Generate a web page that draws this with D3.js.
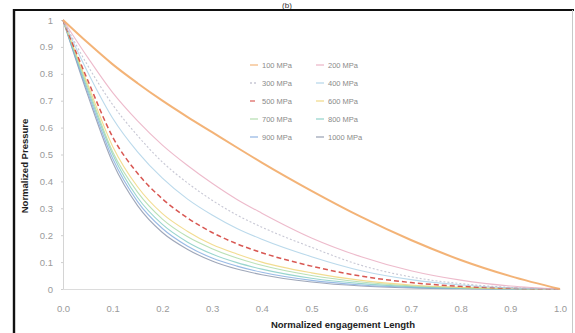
<!DOCTYPE html>
<html>
<head>
<meta charset="utf-8">
<script src="https://cdn.jsdelivr.net/npm/d3@7"></script>
<style>
  html, body { margin: 0; padding: 0; background: #fff; }
  svg { display: block; font-family: "Liberation Sans", Arial, sans-serif; }
</style>
</head>
<body>
<svg id="chart" width="575" height="333"></svg>
<script>
// Normalized engagement length (x) sample positions
const lengthPoints = [0, 0.05, 0.1, 0.15, 0.2, 0.25, 0.3, 0.35, 0.4, 0.5, 0.6, 0.7, 0.8, 0.9, 1.0];

// Normalized pressure for each interference pressure
const p100  = [1, 0.915, 0.835, 0.765, 0.70, 0.64, 0.583, 0.526, 0.47, 0.365, 0.268, 0.182, 0.108, 0.048, 0];
const p200  = [1, 0.86, 0.73, 0.625, 0.535, 0.46, 0.393, 0.333, 0.282, 0.19, 0.12, 0.068, 0.033, 0.011, 0];
const p300  = [1, 0.83, 0.685, 0.57, 0.472, 0.395, 0.33, 0.275, 0.23, 0.155, 0.088, 0.045, 0.02, 0.006, 0];
const p400  = [1, 0.805, 0.635, 0.51, 0.412, 0.335, 0.275, 0.225, 0.185, 0.12, 0.068, 0.035, 0.015, 0.004, 0];
const p500  = [1, 0.775, 0.565, 0.43, 0.335, 0.265, 0.21, 0.168, 0.135, 0.085, 0.048, 0.024, 0.01, 0.003, 0];
const p600  = [1, 0.76, 0.53, 0.38, 0.28, 0.215, 0.165, 0.13, 0.10, 0.06, 0.032, 0.015, 0.006, 0.002, 0];
const p700  = [1, 0.75, 0.51, 0.36, 0.26, 0.195, 0.15, 0.115, 0.088, 0.05, 0.026, 0.012, 0.005, 0.001, 0];
const p800  = [1, 0.74, 0.50, 0.34, 0.24, 0.175, 0.13, 0.098, 0.074, 0.04, 0.02, 0.009, 0.003, 0.001, 0];
const p900  = [1, 0.73, 0.485, 0.325, 0.225, 0.16, 0.115, 0.085, 0.062, 0.032, 0.015, 0.006, 0.002, 0, 0];
const p1000 = [1, 0.72, 0.47, 0.31, 0.21, 0.148, 0.104, 0.074, 0.053, 0.026, 0.011, 0.004, 0.001, 0, 0];

const seriesNames = ["100 MPa", "200 MPa", "300 MPa", "400 MPa", "500 MPa",
                     "600 MPa", "700 MPa", "800 MPa", "900 MPa", "1000 MPa"];
const seriesValues = [p100, p200, p300, p400, p500, p600, p700, p800, p900, p1000];

const xTickValues = [0, 0.1, 0.2, 0.3, 0.4, 0.5, 0.6, 0.7, 0.8, 0.9, 1.0];
const yTickValues = [0, 0.1, 0.2, 0.3, 0.4, 0.5, 0.6, 0.7, 0.8, 0.9, 1];

// Styling per series
const colors = ["#f2ab68", "#e9a9be", "#b9b9c9", "#a9cfe6", "#d4453f",
                "#efd375", "#a9d8a2", "#7fcac2", "#7fa9de", "#8791a8"];
const widths = [2, 1.1, 1.1, 1.1, 1.5, 1.1, 1.1, 1.1, 1.1, 1.1];
const dashes = [null, null, "2,2", null, "5,3", null, null, null, null, null];

const svg = d3.select("#chart");

// Panel label and outer frame
svg.append("text").attr("x", 287).attr("y", 8).attr("text-anchor", "middle")
  .attr("font-size", 8).attr("fill", "#333").text("(b)");
svg.append("line").attr("x1", 13).attr("x2", 574).attr("y1", 10).attr("y2", 10)
  .attr("stroke", "#111").attr("stroke-width", 2.2);
svg.append("line").attr("x1", 14).attr("x2", 14).attr("y1", 9).attr("y2", 333)
  .attr("stroke", "#111").attr("stroke-width", 2.4);
svg.append("line").attr("x1", 572.5).attr("x2", 572.5).attr("y1", 10).attr("y2", 333)
  .attr("stroke", "#c8c8c8").attr("stroke-width", 1);

const x = d3.scaleLinear().domain([0, 1]).range([63, 560]);
const y = d3.scaleLinear().domain([0, 1]).range([289, 20]);

// Y axis
const yAxis = d3.axisLeft(y).tickValues(yTickValues).tickSize(2).tickPadding(8)
  .tickFormat(d => d === 0 ? "0" : d === 1 ? "1" : d3.format(".1f")(d));
const gy = svg.append("g").attr("transform", `translate(${x(0)},0)`).call(yAxis);
gy.select(".domain").attr("stroke", "#d4d4d4");
gy.selectAll(".tick line").attr("stroke", "#cfcfcf");
gy.selectAll(".tick text").attr("fill", "#9a9a9a").attr("font-size", 9.5);

// X axis
const xAxis = d3.axisBottom(x).tickValues(xTickValues).tickSize(0).tickPadding(16)
  .tickFormat(d3.format(".1f"));
const gx = svg.append("g").attr("transform", `translate(0,${y(0)})`).call(xAxis);
gx.select(".domain").attr("stroke", "#dcdcdc");
gx.selectAll(".tick text").attr("fill", "#9a9a9a").attr("font-size", 9.5);

// Axis titles
svg.append("text").attr("transform", `translate(28,166) rotate(-90)`)
  .attr("text-anchor", "middle").attr("font-size", 9.5).attr("font-weight", "bold")
  .attr("fill", "#222").text("Normalized Pressure");
svg.append("text").attr("x", 343).attr("y", 328).attr("text-anchor", "middle")
  .attr("font-size", 9.5).attr("font-weight", "bold").attr("fill", "#222")
  .text("Normalized engagement Length");

// Curves
const line = d3.line().x(d => x(d[0])).y(d => y(d[1])).curve(d3.curveMonotoneX);
const curves = svg.append("g");
seriesValues.slice().reverse().forEach((vals, ri) => {
  const i = seriesValues.length - 1 - ri;
  curves.append("path")
    .attr("d", line(lengthPoints.map((lx, k) => [lx, vals[k]])))
    .attr("fill", "none")
    .attr("stroke", colors[i])
    .attr("stroke-width", widths[i])
    .attr("stroke-dasharray", dashes[i])
    .attr("stroke-opacity", i === 0 || i === 4 ? 0.9 : 0.8);
});

// Legend: two columns, filled row by row
const legend = svg.append("g");
seriesNames.forEach((name, i) => {
  const col = i % 2, row = Math.floor(i / 2);
  const lx = col === 0 ? 250 : 316;
  const ly = 65 + row * 18;
  legend.append("line").attr("x1", lx).attr("x2", lx + 8).attr("y1", ly).attr("y2", ly)
    .attr("stroke", colors[i]).attr("stroke-width", 1.3)
    .attr("stroke-dasharray", dashes[i]).attr("stroke-opacity", 0.8);
  legend.append("text").attr("x", lx + 12).attr("y", ly).attr("dy", "0.35em")
    .attr("font-size", 7.5).attr("fill", "#8a8a8a").text(name);
});
</script>
</body>
</html>
